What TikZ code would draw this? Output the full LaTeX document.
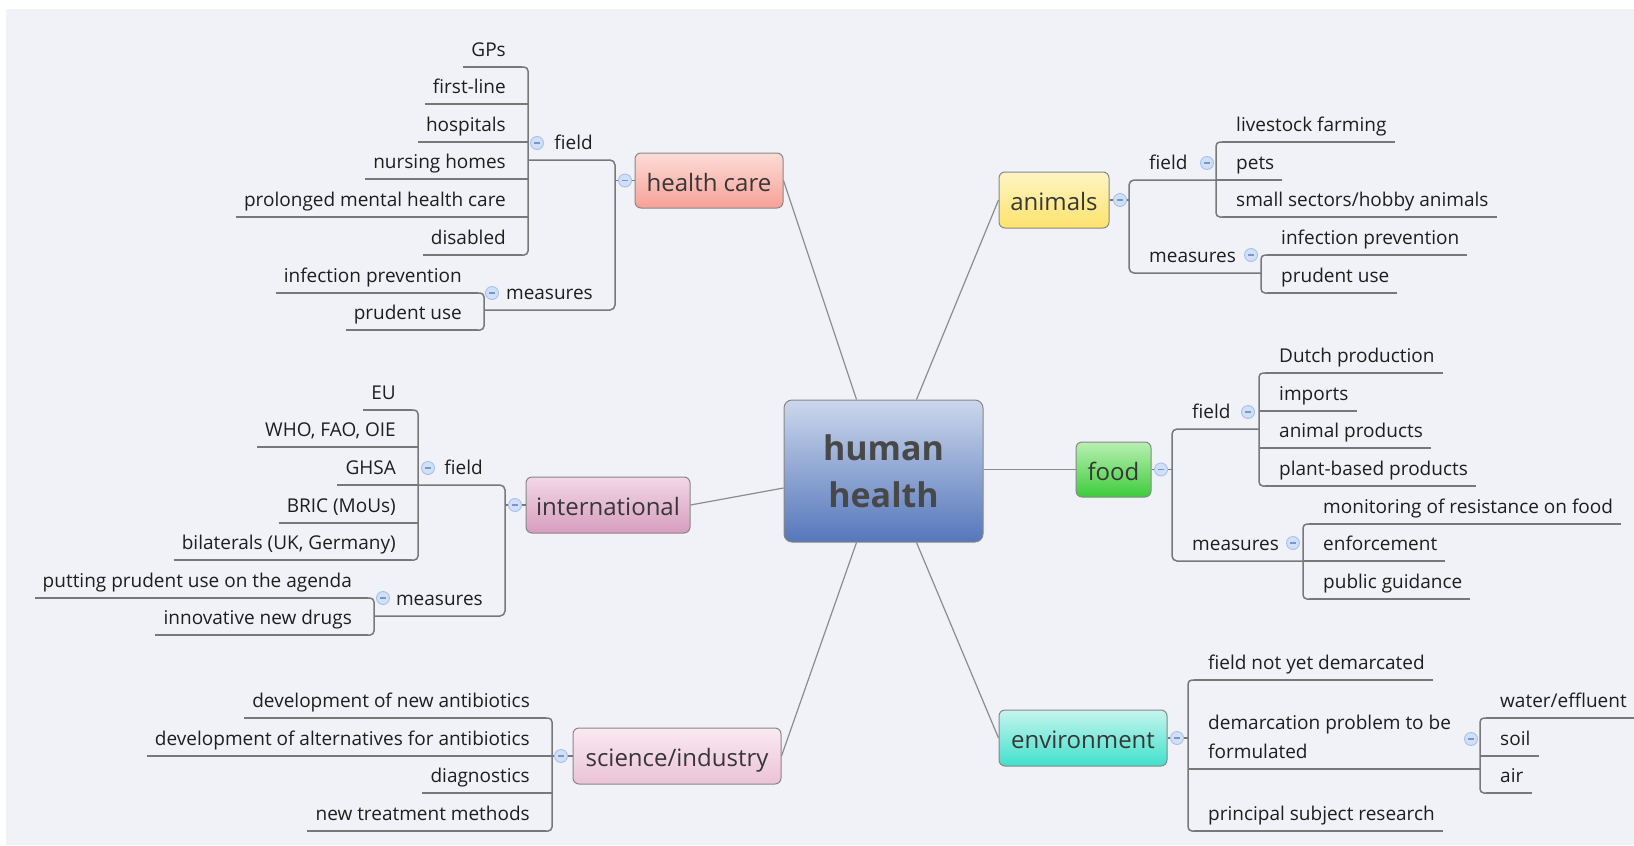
\documentclass[tikz,border=0pt]{standalone}
\usepackage{fontspec}
\setmainfont{Open Sans}
\usetikzlibrary{calc}
\definecolor{bg}{RGB}{241,242,247}
\definecolor{ulgray}{RGB}{120,120,120}
\definecolor{conngray}{RGB}{140,140,140}
\definecolor{bordgray}{RGB}{135,135,135}
\definecolor{leaftext}{RGB}{30,30,30}
\definecolor{branchtext}{RGB}{55,55,55}
\definecolor{hhtext}{RGB}{72,72,72}
\definecolor{togfill}{RGB}{208,224,248}
\definecolor{togdraw}{RGB}{165,193,238}
\definecolor{togminus}{RGB}{125,150,200}
\definecolor{hcT}{HTML}{FCDCD6}\definecolor{hcB}{HTML}{F7A197}
\definecolor{anT}{HTML}{FFF5C4}\definecolor{anB}{HTML}{FCE36C}
\definecolor{fdT}{HTML}{B8F0B2}\definecolor{fdB}{HTML}{3DCC3B}
\definecolor{enT}{HTML}{C6F5EE}\definecolor{enB}{HTML}{40E0CB}
\definecolor{inT}{HTML}{F2D8E6}\definecolor{inB}{HTML}{D79DBE}
\definecolor{siT}{HTML}{F9EAF1}\definecolor{siB}{HTML}{EBC3D6}
\definecolor{hhT}{HTML}{CBD7EC}\definecolor{hhB}{HTML}{5577BB}
\newcommand\leaffont{\fontsize{19}{29}\selectfont}
\newcommand\branchfont{\fontsize{24}{29}\selectfont}
\newcommand\hhfont{\fontsize{34}{47}\selectfont\bfseries}
\tikzset{
  leaf/.style={font=\leaffont, text=leaftext, inner xsep=8pt, inner ysep=0pt},
  ul/.style={draw=ulgray, line width=1.5pt},
  conn/.style={draw=conngray, line width=1.2pt},
  branch/.style={draw=bordgray, line width=1pt, rounded corners=6pt, font=\branchfont, text=branchtext, inner sep=0pt, text height=21.5pt, text depth=0pt},
  tog/.style={circle, minimum size=13pt, inner sep=0pt, fill=togfill, draw=togdraw, line width=0.9pt,
    path picture={\draw[togminus, line width=1.1pt] ([xshift=-2.8pt]path picture bounding box.center) -- ([xshift=2.8pt]path picture bounding box.center);}},
}
% left leaf: name, bracket x, underline y, underline end x, text
\newcommand\leafL[5]{\node[leaf,anchor=base east] (#1) at ({#2-14},{#3-10.5}) {#5};
  \draw[ul] ($(#1.base west)+(0,10.5)$) -- (#4,#3);}
% right leaf
\newcommand\leafR[5]{\node[leaf,anchor=base west] (#1) at ({#2+12},{#3-10.5}) {#5};
  \draw[ul] ($(#1.base east)+(0,10.5)$) -- (#4,#3);}
\begin{document}
\begin{tikzpicture}[x=1pt,y=-1pt]
\useasboundingbox (0,0) rectangle (1634,846);
\fill[white] (0,0) rectangle (1634,846);
\fill[bg] (6,9) rectangle (1634,845);

% central and branch nodes
\node[branch, minimum width=199pt, minimum height=142pt, top color=hhT, bottom color=hhB, font=\hhfont, text=hhtext, align=center, rounded corners=8pt, text height=, text depth=] (hh) at (883.5,471) {human\\health};
\node[branch, minimum width=148pt, minimum height=55pt, top color=hcT, bottom color=hcB] (hc) at (709,180.5) {health care};
\node[branch, minimum width=110pt, minimum height=56pt, top color=anT, bottom color=anB] (an) at (1054,200) {animals};
\node[branch, minimum width=75pt, minimum height=55pt, top color=fdT, bottom color=fdB] (fd) at (1113.5,469.5) {food};
\node[branch, minimum width=168pt, minimum height=56pt, top color=enT, bottom color=enB] (en) at (1083,738) {environment};
\node[branch, minimum width=164pt, minimum height=56pt, top color=inT, bottom color=inB] (in) at (608,505) {international};
\node[branch, minimum width=208pt, minimum height=56pt, top color=siT, bottom color=siB] (si) at (677,756) {science/industry};

\coordinate (hhTL) at ($(hh.north west)+(73,0)$);
\coordinate (hhTR) at ($(hh.north east)+(-67,0)$);
\coordinate (hhBL) at ($(hh.south west)+(73,0)$);
\coordinate (hhBR) at ($(hh.south east)+(-67,0)$);
\coordinate (hhL) at ($(hh.west)+(0,17)$);
\coordinate (hhR) at ($(hh.east)+(0,-1.5)$);
\draw[conn] (hc.east) -- (hhTL);
\draw[conn] (an.west) -- (hhTR);
\draw[conn] (hhR) -- (fd.west);
\draw[conn] (en.west) -- (hhBR);
\draw[conn] (si.east) -- (hhBL);
\draw[conn] (in.east) -- (hhL);

% ---------------- health care
\draw[ul,rounded corners=5pt] (528,160) -- (615,160) -- (615,310) -- (484,310);
\draw[ul] (615,180.5) -- (hc.west);
\node[leaf,anchor=base east] (hcf) at (601,149.5) {field};
\node[leaf,anchor=base east] (hcm) at (601,299.5) {measures};
\leafL{gps}{528}{67}{522}{GPs}
\leafL{fl}{528}{104}{528}{first-line}
\leafL{hos}{528}{142}{528}{hospitals}
\leafL{nh}{528}{179}{528}{nursing homes}
\leafL{pm}{528}{217}{528}{prolonged mental health care}
\leafL{dis}{528}{255}{522}{disabled}
\draw[ul,rounded corners=4pt] (522,67) -- (528,67) -- (528,255) -- (522,255);
\leafL{hcip}{484}{293}{478}{infection prevention}
\leafL{hcpu}{484}{330}{478}{prudent use}
\draw[ul,rounded corners=4pt] (478,293) -- (484,293) -- (484,330) -- (478,330);
\node[tog] (hct) at (625,180.5) {};
\node[tog] (hcft) at (537,143) {};
\node[tog] (hcmt) at (492,293) {};

% ---------------- animals
\draw[ul,rounded corners=5pt] (1216,180) -- (1129,180) -- (1129,273) -- (1261,273);
\draw[ul] (an.east) -- (1129,200);
\node[leaf,anchor=base west] (anf) at (1141,169.5) {field};
\node[leaf,anchor=base west] (anm) at (1141,262.5) {measures};
\leafR{lf}{1216}{142}{1222}{livestock farming}
\leafR{pets}{1216}{180}{1216}{pets}
\leafR{ss}{1216}{217}{1222}{small sectors/hobby animals}
\draw[ul,rounded corners=4pt] (1222,142) -- (1216,142) -- (1216,217) -- (1222,217);
\leafR{anip}{1261}{255}{1267}{infection prevention}
\leafR{anpu}{1261}{293}{1267}{prudent use}
\draw[ul,rounded corners=4pt] (1267,255) -- (1261,255) -- (1261,293) -- (1267,293);
\node[tog] (ant) at (1120,200) {};
\node[tog] (anft) at (1207,163) {};
\node[tog] (anmt) at (1251,255) {};

% ---------------- food
\draw[ul,rounded corners=5pt] (1259,429) -- (1172,429) -- (1172,561) -- (1303,561);
\draw[ul] (fd.east) -- (1172,469.5);
\node[leaf,anchor=base west] (fdf) at (1184,418.5) {field};
\node[leaf,anchor=base west] (fdm) at (1184,550.5) {measures};
\leafR{dp}{1259}{373}{1265}{Dutch production}
\leafR{imp}{1259}{411}{1259}{imports}
\leafR{ap}{1259}{448}{1259}{animal products}
\leafR{pb}{1259}{486}{1265}{plant-based products}
\draw[ul,rounded corners=4pt] (1265,373) -- (1259,373) -- (1259,486) -- (1265,486);
\leafR{mon}{1303}{524}{1309}{monitoring of resistance on food}
\leafR{enf}{1303}{561}{1303}{enforcement}
\leafR{pg}{1303}{599}{1309}{public guidance}
\draw[ul,rounded corners=4pt] (1309,524) -- (1303,524) -- (1303,599) -- (1309,599);
\node[tog] (fdt) at (1161,469.5) {};
\node[tog] (fdft) at (1248,412) {};
\node[tog] (fdmt) at (1293,543) {};

% ---------------- environment
\draw[ul] (en.east) -- (1188,738);
\leafR{fnd}{1188}{680}{1194}{field not yet demarcated}
\leafR{psr}{1188}{831}{1194}{principal subject research}
\draw[ul,rounded corners=4pt] (1194,680) -- (1188,680) -- (1188,831) -- (1194,831);
\node[leaf,anchor=south west,align=left] (dem) at (1200,758.5) {demarcation problem to be\\formulated};
\draw[ul] (1188,769) -- (1480,769);
\leafR{wat}{1480}{718}{1486}{water/effluent}
\leafR{soil}{1480}{756}{1480}{soil}
\leafR{air}{1480}{793}{1486}{air}
\draw[ul,rounded corners=4pt] (1486,718) -- (1480,718) -- (1480,793) -- (1486,793);
\node[tog] (ent) at (1177,738) {};
\node[tog] (demt) at (1471,739) {};

% ---------------- international
\draw[ul,rounded corners=5pt] (418,485) -- (505,485) -- (505,616) -- (374,616);
\draw[ul] (505,505) -- (in.west);
\node[leaf,anchor=base east] (inf) at (491,474.5) {field};
\node[leaf,anchor=base east] (inm) at (491,605.5) {measures};
\leafL{eu}{418}{410}{412}{EU}
\leafL{who}{418}{447}{418}{WHO, FAO, OIE}
\leafL{ghsa}{418}{485}{418}{GHSA}
\leafL{bric}{418}{523}{418}{BRIC (MoUs)}
\leafL{bil}{418}{560}{412}{bilaterals (UK, Germany)}
\draw[ul,rounded corners=4pt] (412,410) -- (418,410) -- (418,560) -- (412,560);
\leafL{put}{374}{598}{368}{putting prudent use on the agenda}
\leafL{inn}{374}{635}{368}{innovative new drugs}
\draw[ul,rounded corners=4pt] (368,598) -- (374,598) -- (374,635) -- (368,635);
\node[tog] (int) at (515,505) {};
\node[tog] (inft) at (428,468) {};
\node[tog] (inmt) at (383,598) {};

% ---------------- science/industry
\draw[ul] (552,756) -- (si.west);
\leafL{dna}{552}{718}{546}{development of new antibiotics}
\leafL{daa}{552}{756}{552}{development of alternatives for antibiotics}
\leafL{diag}{552}{793}{552}{diagnostics}
\leafL{ntm}{552}{831}{546}{new treatment methods}
\draw[ul,rounded corners=4pt] (546,718) -- (552,718) -- (552,831) -- (546,831);
\node[tog] (sit) at (561,756) {};
\end{tikzpicture}
\end{document}
